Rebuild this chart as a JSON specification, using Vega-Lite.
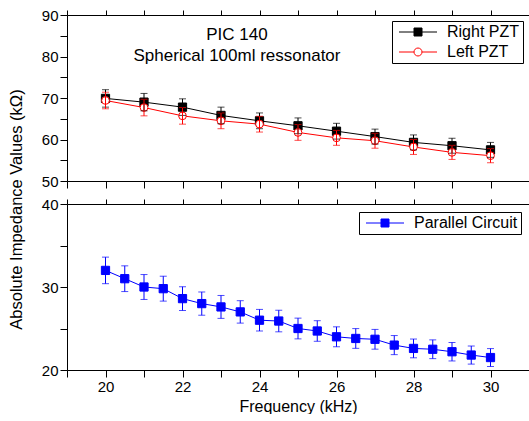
{
  "$schema": "https://vega.github.io/schema/vega-lite/v6.json",
  "padding": {"left": 7, "top": 8, "right": 0, "bottom": 0},
  "bounds": "flush",
  "spacing": 23,
  "resolve": {
    "scale": {"color": "independent", "stroke": "independent", "fill": "independent", "shape": "independent"},
    "legend": {"color": "independent", "stroke": "independent", "fill": "independent", "shape": "independent"}
  },
  "datasets": {
    "top": [
      {"series": "Right PZT", "freq": 20, "value": 69.9, "err": 2.1},
      {"series": "Right PZT", "freq": 21, "value": 69.0, "err": 2.1},
      {"series": "Right PZT", "freq": 22, "value": 67.8, "err": 2.0},
      {"series": "Right PZT", "freq": 23, "value": 65.8, "err": 2.0},
      {"series": "Right PZT", "freq": 24, "value": 64.5, "err": 1.9},
      {"series": "Right PZT", "freq": 25, "value": 63.3, "err": 1.9},
      {"series": "Right PZT", "freq": 26, "value": 62.0, "err": 1.9},
      {"series": "Right PZT", "freq": 27, "value": 60.7, "err": 1.8},
      {"series": "Right PZT", "freq": 28, "value": 59.3, "err": 1.8},
      {"series": "Right PZT", "freq": 29, "value": 58.5, "err": 1.8},
      {"series": "Right PZT", "freq": 30, "value": 57.5, "err": 1.8},
      {"series": "Left PZT", "freq": 20, "value": 69.4, "err": 2.0},
      {"series": "Left PZT", "freq": 21, "value": 67.7, "err": 2.0},
      {"series": "Left PZT", "freq": 22, "value": 65.7, "err": 2.0},
      {"series": "Left PZT", "freq": 23, "value": 64.5, "err": 1.9},
      {"series": "Left PZT", "freq": 24, "value": 63.7, "err": 1.9},
      {"series": "Left PZT", "freq": 25, "value": 61.7, "err": 1.9},
      {"series": "Left PZT", "freq": 26, "value": 60.4, "err": 1.8},
      {"series": "Left PZT", "freq": 27, "value": 59.7, "err": 1.8},
      {"series": "Left PZT", "freq": 28, "value": 58.2, "err": 1.8},
      {"series": "Left PZT", "freq": 29, "value": 56.9, "err": 1.7},
      {"series": "Left PZT", "freq": 30, "value": 56.1, "err": 1.7}
    ],
    "bottom": [
      {"series": "Parallel Circuit", "freq": 20, "value": 32.0, "err": 1.6},
      {"series": "Parallel Circuit", "freq": 20.5, "value": 31.0, "err": 1.55},
      {"series": "Parallel Circuit", "freq": 21, "value": 30.0, "err": 1.5},
      {"series": "Parallel Circuit", "freq": 21.5, "value": 29.8, "err": 1.5},
      {"series": "Parallel Circuit", "freq": 22, "value": 28.6, "err": 1.43},
      {"series": "Parallel Circuit", "freq": 22.5, "value": 28.0, "err": 1.4},
      {"series": "Parallel Circuit", "freq": 23, "value": 27.6, "err": 1.38},
      {"series": "Parallel Circuit", "freq": 23.5, "value": 27.0, "err": 1.35},
      {"series": "Parallel Circuit", "freq": 24, "value": 26.0, "err": 1.3},
      {"series": "Parallel Circuit", "freq": 24.5, "value": 25.9, "err": 1.3},
      {"series": "Parallel Circuit", "freq": 25, "value": 25.0, "err": 1.25},
      {"series": "Parallel Circuit", "freq": 25.5, "value": 24.7, "err": 1.24},
      {"series": "Parallel Circuit", "freq": 26, "value": 24.0, "err": 1.2},
      {"series": "Parallel Circuit", "freq": 26.5, "value": 23.8, "err": 1.19},
      {"series": "Parallel Circuit", "freq": 27, "value": 23.7, "err": 1.19},
      {"series": "Parallel Circuit", "freq": 27.5, "value": 23.0, "err": 1.15},
      {"series": "Parallel Circuit", "freq": 28, "value": 22.6, "err": 1.13},
      {"series": "Parallel Circuit", "freq": 28.5, "value": 22.5, "err": 1.13},
      {"series": "Parallel Circuit", "freq": 29, "value": 22.2, "err": 1.11},
      {"series": "Parallel Circuit", "freq": 29.5, "value": 21.8, "err": 1.09},
      {"series": "Parallel Circuit", "freq": 30, "value": 21.5, "err": 1.08}
    ]
  },
  "vconcat": [
    {
      "width": 462,
      "height": 166,
      "data": {"name": "top"},
      "title": {
        "text": "PIC 140",
        "subtitle": "Spherical 100ml ressonator",
        "frame": "group",
        "anchor": "start",
        "align": "center",
        "dx": 170,
        "offset": -57,
        "font": "Liberation Sans",
        "fontSize": 17,
        "fontWeight": "normal",
        "color": "#000000",
        "subtitleFont": "Liberation Sans",
        "subtitleFontSize": 17,
        "subtitleColor": "#000000",
        "subtitlePadding": 4
      },
      "layer": [
        {
          "mark": {"type": "line", "strokeWidth": 1},
          "encoding": {
            "x": {"field": "freq", "type": "quantitative", "scale": {"domain": [19, 31], "nice": false, "zero": false},
              "axis": {"orient": "bottom", "values": [19,20,21,22,23,24,25,26,27,28,29,30,31], "labels": false, "tickSize": 7, "title": null,
                "encode": {"ticks": {"update": {"y2": {"signal": "datum.value % 2 === 0 ? 7 : 4"}}}}}},
            "y": {"field": "value", "type": "quantitative", "scale": {"domain": [50, 90], "nice": false, "zero": false},
              "axis": {"orient": "left", "values": [50,55,60,65,70,75,80,85,90], "labelExpr": "datum.value % 10 === 0 ? datum.label : ''", "tickSize": 7, "labelPadding": 2, "title": null,
                "encode": {"ticks": {"update": {"x2": {"signal": "datum.value % 10 === 0 ? -7 : -4"}}}}}},
            "stroke": {"field": "series", "type": "nominal", "scale": {"domain": ["Right PZT", "Left PZT"], "range": ["#000000", "#ff0000"]},
              "legend": {"title": null, "orient": "top-right", "offset": 6, "padding": 3, "strokeColor": "#000000", "fillColor": "#ffffff", "cornerRadius": 0,
                "labelFont": "Liberation Sans", "labelFontSize": 16, "labelColor": "#000000", "labelOffset": 36, "labelLimit": 300,
                "symbolSize": 64, "symbolStrokeWidth": 1, "symbolOpacity": 1, "rowPadding": 4,
                "symbolType": {"expr": "datum.value === 'Right PZT' ? 'M-1,0H2.75M4.75,0H8.5M2.75,-1H4.75V1H2.75Z' : 'M-1,0H2.75M4.75,0H8.5M4.75,0A1,1 0 1,1 2.75,0A1,1 0 1,1 4.75,0Z'"}}}
          }
        },
        {
          "transform": [{"filter": "datum.series === 'Right PZT'"}],
          "mark": {"type": "point", "shape": "square", "size": 68, "strokeWidth": 1, "opacity": 1},
          "encoding": {
            "x": {"field": "freq", "type": "quantitative",
              "axis": {"orient": "top", "values": [19,20,21,22,23,24,25,26,27,28,29,30,31], "labels": false, "title": null,
                "encode": {"ticks": {"update": {"y2": {"signal": "datum.value % 2 === 0 ? 7 : 4"}}}}}},
            "y": {"field": "value", "type": "quantitative",
              "axis": {"orient": "right", "values": [50,55,60,65,70,75,80,85,90], "labels": false, "domain": false, "title": null,
                "encode": {"ticks": {"update": {"x2": {"signal": "datum.value % 10 === 0 ? -8 : -4"}}}}}},
            "stroke": {"field": "series", "type": "nominal"},
            "fill": {"field": "series", "type": "nominal", "scale": {"domain": ["Right PZT", "Left PZT"], "range": ["#000000", "#ffffff"]}}
          }
        },
        {
          "transform": [{"filter": "datum.series === 'Left PZT'"}],
          "mark": {"type": "point", "shape": "circle", "size": 60, "strokeWidth": 1, "opacity": 1},
          "encoding": {
            "x": {"field": "freq", "type": "quantitative", "axis": null},
            "y": {"field": "value", "type": "quantitative", "axis": null},
            "stroke": {"field": "series", "type": "nominal"},
            "fill": {"field": "series", "type": "nominal"}
          }
        },
        {
          "mark": {"type": "errorbar", "ticks": {"size": 7}, "thickness": 1},
          "encoding": {
            "x": {"field": "freq", "type": "quantitative", "axis": null},
            "y": {"field": "value", "type": "quantitative", "axis": null},
            "yError": {"field": "err"},
            "color": {"field": "series", "type": "nominal", "scale": {"domain": ["Right PZT", "Left PZT"], "range": ["#000000", "#ff0000"]}, "legend": null}
          }
        }
      ],
      "resolve": {"axis": {"x": "independent", "y": "independent"}}
    },
    {
      "width": 462,
      "height": 166,
      "data": {"name": "bottom"},
      "layer": [
        {
          "mark": {"type": "line", "strokeWidth": 1},
          "encoding": {
            "x": {"field": "freq", "type": "quantitative", "scale": {"domain": [19, 31], "nice": false, "zero": false},
              "axis": {"orient": "bottom", "values": [19,20,21,22,23,24,25,26,27,28,29,30,31], "labelExpr": "datum.value % 2 === 0 ? datum.label : ''", "tickSize": 7, "labelPadding": 2,
                "title": "Frequency (kHz)", "titlePadding": 4,
                "encode": {"ticks": {"update": {"y2": {"signal": "datum.value % 2 === 0 ? 7 : 4"}}}}}},
            "y": {"field": "value", "type": "quantitative", "scale": {"domain": [20, 40], "nice": false, "zero": false},
              "axis": {"orient": "left", "values": [20,25,30,35,40], "labelExpr": "datum.value % 10 === 0 ? datum.label : ''", "tickSize": 7, "labelPadding": 2,
                "title": "Absolute Impedance Values (kΩ)", "titleX": -51, "titleY": 5, "titleAngle": -90, "titleAlign": "center", "titleBaseline": "middle", "titleFontSize": 16.5,
                "encode": {"ticks": {"update": {"x2": {"signal": "datum.value % 10 === 0 ? -7 : -4"}}}}}},
            "stroke": {"field": "series", "type": "nominal", "scale": {"domain": ["Parallel Circuit"], "range": ["#0000ff"]},
              "legend": {"title": null, "orient": "top-right", "offset": 8, "padding": 3, "strokeColor": "#000000", "fillColor": "#ffffff", "cornerRadius": 0,
                "labelFont": "Liberation Sans", "labelFontSize": 16, "labelColor": "#000000", "labelOffset": 36, "labelLimit": 300,
                "symbolSize": 64, "symbolStrokeWidth": 1, "symbolOpacity": 1,
                "symbolType": "M-1,0H2.75M4.75,0H8.5M2.75,-1H4.75V1H2.75Z"}}
          }
        },
        {
          "mark": {"type": "point", "shape": "square", "size": 68, "strokeWidth": 1, "opacity": 1},
          "encoding": {
            "x": {"field": "freq", "type": "quantitative",
              "axis": {"orient": "top", "values": [19,20,21,22,23,24,25,26,27,28,29,30,31], "labels": false, "title": null,
                "encode": {"ticks": {"update": {"y2": {"signal": "datum.value % 2 === 0 ? 7 : 4"}}}}}},
            "y": {"field": "value", "type": "quantitative",
              "axis": {"orient": "right", "values": [20,25,30,35,40], "labels": false, "domain": false, "title": null,
                "encode": {"ticks": {"update": {"x2": {"signal": "datum.value % 10 === 0 ? -8 : -4"}}}}}},
            "stroke": {"field": "series", "type": "nominal"},
            "fill": {"field": "series", "type": "nominal", "scale": {"domain": ["Parallel Circuit"], "range": ["#0000ff"]}}
          }
        },
        {
          "mark": {"type": "errorbar", "ticks": {"size": 7}, "thickness": 1},
          "encoding": {
            "x": {"field": "freq", "type": "quantitative", "axis": null},
            "y": {"field": "value", "type": "quantitative", "axis": null},
            "yError": {"field": "err"},
            "color": {"field": "series", "type": "nominal", "scale": {"domain": ["Parallel Circuit"], "range": ["#0000ff"]}, "legend": null}
          }
        }
      ],
      "resolve": {"axis": {"x": "independent", "y": "independent"}}
    }
  ],
  "config": {
    "view": {"stroke": null},
    "font": "Liberation Sans",
    "axis": {
      "grid": false,
      "domainColor": "#000000",
      "tickColor": "#000000",
      "labelColor": "#000000",
      "labelFont": "Liberation Sans",
      "labelFontSize": 15,
      "titleFont": "Liberation Sans",
      "titleFontSize": 16,
      "titleFontWeight": "normal",
      "titleColor": "#000000",
      "labelOverlap": false,
      "labelFlush": false,
      "domainWidth": 1,
      "tickWidth": 1
    }
  }
}
